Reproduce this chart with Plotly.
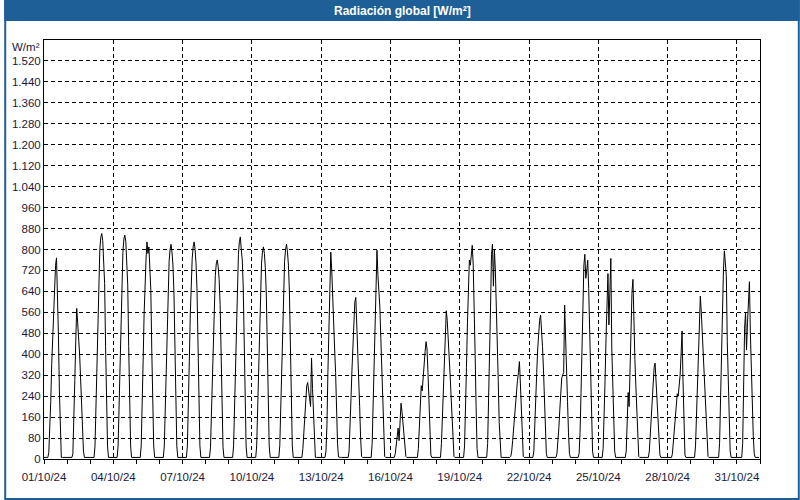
import pandas as pd
import plotly.graph_objects as go

# ---- data ----
month_start = "2024-10-01"
n_days = 31
daylight_hours = list(range(4, 20))   # hours carrying daytime values
night_level = 6                       # W/m² recorded at night

# hourly global radiation [W/m²], hours 04..19, one row per day (01/10 .. 31/10)
d01 = [6, 25, 100, 220, 360, 460, 550, 650, 740, 768, 650, 470, 260, 60, 6, 6]
d02 = [6, 6, 20, 130, 300, 450, 575, 520, 470, 400, 310, 200, 100, 30, 6, 6]
d03 = [6, 50, 190, 390, 570, 710, 800, 846, 861, 835, 775, 670, 430, 215, 50, 6]
d04 = [6, 50, 190, 385, 565, 700, 790, 840, 855, 830, 770, 665, 430, 215, 50, 6]
d05 = [6, 50, 180, 370, 550, 680, 760, 829, 785, 810, 745, 645, 415, 205, 50, 6]
d06 = [6, 50, 180, 370, 540, 670, 755, 800, 820, 790, 740, 640, 410, 205, 50, 6]
d07 = [6, 50, 180, 375, 550, 680, 765, 810, 829, 800, 745, 645, 415, 205, 50, 6]
d08 = [6, 45, 165, 340, 500, 620, 700, 745, 760, 735, 685, 590, 380, 190, 45, 6]
d09 = [6, 50, 185, 380, 560, 695, 780, 830, 848, 800, 760, 660, 425, 210, 50, 6]
d10 = [6, 50, 180, 365, 535, 665, 745, 790, 810, 785, 730, 630, 405, 200, 50, 6]
d11 = [6, 50, 180, 370, 540, 670, 755, 800, 820, 790, 740, 640, 410, 205, 50, 6]
d12 = [6, 40, 110, 180, 240, 280, 292, 250, 230, 200, 385, 270, 160, 40, 6, 6]
d13 = [6, 30, 130, 330, 480, 640, 790, 720, 640, 530, 420, 330, 180, 60, 8, 6]
d14 = [6, 30, 110, 230, 340, 440, 530, 600, 617, 530, 440, 330, 200, 80, 10, 6]
d15 = [6, 60, 200, 370, 520, 650, 797, 700, 640, 580, 460, 340, 200, 80, 10, 6]
d16 = [6, 20, 50, 90, 118, 70, 150, 213, 180, 130, 80, 40, 10, 6, 6, 6]
d17 = [6, 40, 120, 230, 280, 260, 320, 370, 410, 448, 420, 330, 210, 100, 15, 6]
d18 = [6, 60, 170, 300, 420, 520, 566, 530, 470, 400, 320, 240, 150, 60, 10, 6]
d19 = [6, 50, 170, 350, 520, 650, 760, 740, 800, 816, 740, 600, 400, 200, 40, 6]
d20 = [6, 60, 200, 400, 580, 780, 820, 660, 800, 720, 600, 470, 300, 140, 30, 6]
d21 = [6, 10, 30, 70, 120, 170, 220, 260, 300, 330, 372, 290, 180, 70, 10, 6]
d22 = [6, 30, 110, 220, 330, 420, 490, 530, 550, 500, 430, 340, 230, 110, 20, 6]
d23 = [6, 20, 60, 120, 190, 260, 310, 321, 330, 588, 430, 330, 220, 100, 20, 6]
d24 = [20, 100, 250, 440, 620, 740, 782, 690, 720, 759, 650, 500, 330, 160, 30, 6]
d25 = [6, 40, 150, 300, 460, 600, 708, 512, 650, 766, 420, 260, 130, 30, 6, 6]
d26 = [6, 30, 120, 254, 200, 380, 520, 640, 686, 480, 380, 280, 170, 70, 10, 6]
d27 = [6, 30, 90, 160, 230, 300, 350, 366, 300, 230, 150, 70, 15, 6, 6, 6]
d28 = [6, 20, 70, 130, 180, 220, 249, 240, 270, 320, 400, 489, 300, 120, 15, 6]
d29 = [6, 50, 170, 320, 460, 570, 622, 560, 480, 400, 320, 230, 140, 60, 10, 6]
d30 = [6, 6, 60, 250, 420, 600, 720, 795, 760, 700, 450, 300, 150, 30, 6, 6]
d31 = [6, 6, 60, 300, 500, 560, 416, 520, 620, 677, 480, 330, 200, 90, 20, 6]
daily_rows = [d01, d02, d03, d04, d05, d06, d07, d08, d09, d10, d11, d12, d13, d14, d15, d16,
              d17, d18, d19, d20, d21, d22, d23, d24, d25, d26, d27, d28, d29, d30, d31]

y_ticks = list(range(0, 1521, 80))
title_text = "Radiación global [W/m²]"
unit_text = "W/m²"

# ---- build hourly series ----
times, values = [], []
for d, row in enumerate(daily_rows):
    day = pd.Timestamp(month_start) + pd.Timedelta(days=d)
    for h in range(24):
        times.append(day + pd.Timedelta(hours=h))
        if h in daylight_hours:
            values.append(row[daylight_hours.index(h)])
        else:
            values.append(night_level)

BLUE = "#1f5f97"
TXT = "#1a1a3a"
W, H = 800, 500
L, R, T, B = 40, 40, 40, 41
pw, ph = W - L - R, H - T - B

def px(x):
    return (x - L) / pw

def py(y):
    return (H - B - y) / ph

fig = go.Figure()
fig.add_trace(go.Scatter(x=times, y=values, mode="lines",
                         line=dict(color="black", width=1), hoverinfo="skip",
                         showlegend=False))

fig.update_layout(
    width=W, height=H,
    margin=dict(l=L, r=R, t=T, b=B, pad=0),
    paper_bgcolor="white", plot_bgcolor="white",
    separators=",.",
    font=dict(family="Liberation Sans, Arial, sans-serif", size=11.5, color=TXT),
    xaxis=dict(
        type="date",
        range=[pd.Timestamp(month_start), pd.Timestamp(month_start) + pd.Timedelta(days=n_days)],
        tick0=month_start, dtick=3 * 86400000, tickformat="%d/%m/%y",
        ticks="outside", ticklen=4, tickcolor="black", ticklabelstandoff=3,
        showline=True, linecolor="black", linewidth=1, mirror=True,
        showgrid=True, gridcolor="black", gridwidth=1, griddash="4px,3px",
        minor=dict(dtick=86400000, tick0=month_start, ticks="outside", ticklen=4,
                   tickcolor="black", showgrid=False),
        tickfont=dict(size=11.5, color=TXT),
        fixedrange=True,
    ),
    yaxis=dict(
        range=[0, 1600], tickvals=y_ticks, tickformat=",d",
        ticks="", showline=True, linecolor="black", linewidth=1, mirror=True,
        showgrid=True, gridcolor="black", gridwidth=1, griddash="4px,3px",
        zeroline=False, tickfont=dict(size=11.5, color=TXT),
        fixedrange=True,
    ),
    shapes=[
        dict(type="rect", xref="paper", yref="paper", x0=px(0), x1=px(W), y0=py(21), y1=py(0),
             fillcolor=BLUE, line=dict(width=0), layer="above"),
        dict(type="rect", xref="paper", yref="paper", x0=px(1), x1=px(W - 1), y0=py(H - 1), y1=py(1),
             fillcolor="rgba(0,0,0,0)", line=dict(color=BLUE, width=2), layer="above"),
    ],
    annotations=[
        dict(text="<b>" + title_text + "</b>", xref="paper", yref="paper", x=0.5, y=py(10.5),
             xanchor="center", yanchor="middle", showarrow=False,
             font=dict(size=12, color="white")),
        dict(text=unit_text, xref="paper", yref="paper", x=px(38), y=py(46.5),
             xanchor="right", yanchor="middle", showarrow=False,
             font=dict(size=11.5, color=TXT)),
    ],
)

fig.write_html("out.html", config={"displayModeBar": False})
